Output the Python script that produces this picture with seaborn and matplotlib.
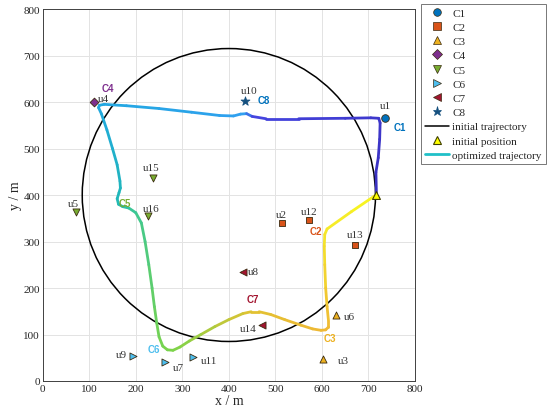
import numpy as np
import pandas as pd
import matplotlib
matplotlib.use("Agg")
import matplotlib.pyplot as plt
import seaborn as sns
from matplotlib.collections import LineCollection
from matplotlib.colors import LinearSegmentedColormap
from matplotlib.lines import Line2D
from matplotlib.patches import Circle

# ---------------- data ----------------
user_names = ["u1", "u2", "u3", "u4", "u5", "u6", "u7", "u8",
              "u9", "u10", "u11", "u12", "u13", "u14", "u15", "u16"]
user_x = [735, 515, 603, 110, 71, 631, 262, 431, 195, 435, 322, 573, 670, 471, 237, 226]
user_y = [565, 339, 47, 600, 363, 143, 40, 235, 54, 602, 51, 347, 292, 121, 437, 354]
user_cluster = ["C1", "C2", "C3", "C4", "C5", "C3", "C6", "C7",
                "C6", "C8", "C6", "C2", "C2", "C7", "C5", "C5"]

clusters = ["C1", "C2", "C3", "C4", "C5", "C6", "C7", "C8"]
cluster_colors = ["#0072BD", "#D95319", "#EDB120", "#7E2F8E",
                  "#77AC30", "#4DBEEE", "#A2142F", "#15507F"]
cluster_label_colors = ["#0072BD", "#D95319", "#EDB120", "#7E2F8E",
                        "#77AC30", "#4DBEEE", "#A2142F", "#0072BD"]
cluster_markers = ["o", "s", "^", "D", "v", ">", "<", "*"]
cluster_label_x = [768, 587, 617, 139, 177, 238, 451, 476]
cluster_label_y = [547, 323, 92, 630, 383, 69, 176, 604]

# user label positions
user_label_x = [736, 512, 646, 130, 67, 659, 292, 453, 170, 444, 358, 573, 672, 442, 234, 234]
user_label_y = [593, 358, 45, 608, 381, 139, 29, 235, 57, 624, 45, 364, 315, 112, 460, 372]

# initial trajectory (circle)
circle_center = (400, 400)
circle_radius = 315

# initial position
init_x = [716]
init_y = [400]

# optimized trajectory waypoints
traj_x = [716, 663, 611, 606, 605, 606, 608, 611, 614, 614, 608, 598, 580, 555, 520, 490,
          465, 448, 430, 400, 370, 340, 315, 295, 280, 268, 258, 250, 245, 240, 235, 228,
          220, 212, 200, 185, 172, 163, 160, 164, 167, 166, 160, 150, 138, 126, 120, 122,
          132, 180, 250, 320, 380, 410, 425, 438, 450, 480, 550, 650, 705, 722, 725, 724,
          721, 716, 717]
traj_y = [400, 364, 327, 315, 290, 250, 200, 160, 130, 116, 110, 109, 112, 120, 132, 143,
          149, 149, 145, 132, 117, 100, 86, 73, 66, 67, 75, 95, 125, 160, 200, 250,
          300, 340, 362, 372, 375, 380, 392, 405, 415, 430, 465, 500, 540, 575, 588, 593,
          595, 592, 586, 578, 571, 570, 574, 575, 569, 564, 564, 565, 566, 565, 555, 520,
          480, 449, 402]
# colour anchors along the trajectory (waypoint index -> colour)
traj_anchor_idx = [0, 2, 10, 17, 24, 34, 38, 47, 55, 56, 66]
traj_anchor_col = ["#f8f520", "#f5e82c", "#efb835", "#e2c232", "#7cd44a", "#40c890",
                   "#20b8b8", "#22a8e0", "#30a0f0", "#4545e0", "#3a30c0"]

x_ticks = [0, 100, 200, 300, 400, 500, 600, 700, 800]
y_ticks = [0, 100, 200, 300, 400, 500, 600, 700, 800]

# ---------------- plot ----------------
sns.set_style("whitegrid")
plt.rcParams["font.family"] = ["Liberation Serif", "DejaVu Serif"]

fig = plt.figure(figsize=(5.5, 4.14), dpi=100)
ax = fig.add_axes([0.0776, 0.0773, 0.677, 0.8985])

ax.set_xlim(0, 800)
ax.set_ylim(0, 800)
ax.set_xticks(x_ticks)
ax.set_yticks(y_ticks)
ax.grid(True, color="#e3e3e3", linewidth=0.7)
for s in ax.spines.values():
    s.set_color("#404040")
    s.set_linewidth(0.7)
ax.tick_params(axis="both", labelsize=8, colors="#262626", length=3, direction="in",
               pad=2)

# circle
circ = Circle(circle_center, circle_radius, fill=False, edgecolor="black", linewidth=1.1,
              zorder=2)
ax.add_patch(circ)

# optimized trajectory with gradient
pts = np.column_stack([traj_x, traj_y]).astype(float)
seg_len = np.hypot(np.diff(pts[:, 0]), np.diff(pts[:, 1]))
cum = np.concatenate([[0], np.cumsum(seg_len)])
frac = cum / cum[-1]
stops = [(float(frac[i]), c) for i, c in zip(traj_anchor_idx, traj_anchor_col)]
stops[-1] = (1.0, stops[-1][1])
cmap = LinearSegmentedColormap.from_list("traj", stops)
segs = np.stack([pts[:-1], pts[1:]], axis=1)
mid = (frac[:-1] + frac[1:]) / 2
lc = LineCollection(segs, colors=cmap(mid), linewidths=2.0, capstyle="round",
                    joinstyle="round", zorder=3)
ax.add_collection(lc)

# users
df = pd.DataFrame({"x": user_x, "y": user_y, "cluster": user_cluster})
pal = dict(zip(clusters, cluster_colors))
mk = dict(zip(clusters, cluster_markers))
sizes = {"o": 30, "s": 16, "^": 26, "D": 20, "v": 26, ">": 26, "<": 26, "*": 45}
for c in clusters:
    sub = df[df["cluster"] == c]
    sns.scatterplot(data=sub, x="x", y="y", color=pal[c], marker=mk[c], s=sizes[mk[c]],
                    edgecolor="#3a2a10" if mk[c] != "*" else pal[c], linewidth=0.6,
                    ax=ax, zorder=5, legend=False)

# initial position
sns.scatterplot(x=init_x, y=init_y, color="#ffff00", marker="^", s=32,
                edgecolor="#404000", linewidth=0.8, ax=ax, zorder=6, legend=False)

# labels
for n, lx, ly in zip(user_names, user_label_x, user_label_y):
    ax.text(lx, ly, n, fontsize=8, color="#333333", ha="center", va="center",
            family=["Liberation Serif", "DejaVu Serif"], zorder=7)
for c, lx, ly, col in zip(clusters, cluster_label_x, cluster_label_y, cluster_label_colors):
    ax.text(lx, ly, c, fontsize=7, color=col, ha="center", va="center",
            fontweight="bold", family=["Liberation Sans", "DejaVu Sans"], zorder=7)

ax.set_xlabel("x / m", fontsize=10, labelpad=1, color="#262626")
ax.set_ylabel("y / m", fontsize=10, labelpad=1, color="#262626")

# legend
handles = []
for c, col, m in zip(clusters, cluster_colors, cluster_markers):
    handles.append(Line2D([], [], linestyle="none", marker=m, color=col,
                          markersize=6.5 if m == "*" else 5.5,
                          markeredgecolor="#3a2a10" if m != "*" else col,
                          markeredgewidth=0.5, label=c))
handles.append(Line2D([], [], color="black", linewidth=1.1, label="initial trajrectory"))
handles.append(Line2D([], [], linestyle="none", marker="^", color="#ffff00", markersize=6,
                      markeredgecolor="#404000", markeredgewidth=0.8,
                      label="initial position"))
handles.append(Line2D([], [], color="#20c0c8", linewidth=2.0, label="optimized trajectory"))
leg = fig.legend(handles=handles, loc="upper left", bbox_to_anchor=(0.765, 0.988),
                 fontsize=8, frameon=True, fancybox=False, edgecolor="#555555",
                 handlelength=2.2, handletextpad=0.3, labelspacing=0.4,
                 borderpad=0.35, borderaxespad=0)
leg.get_frame().set_linewidth(0.7)

fig.savefig("out.png", dpi=100)
